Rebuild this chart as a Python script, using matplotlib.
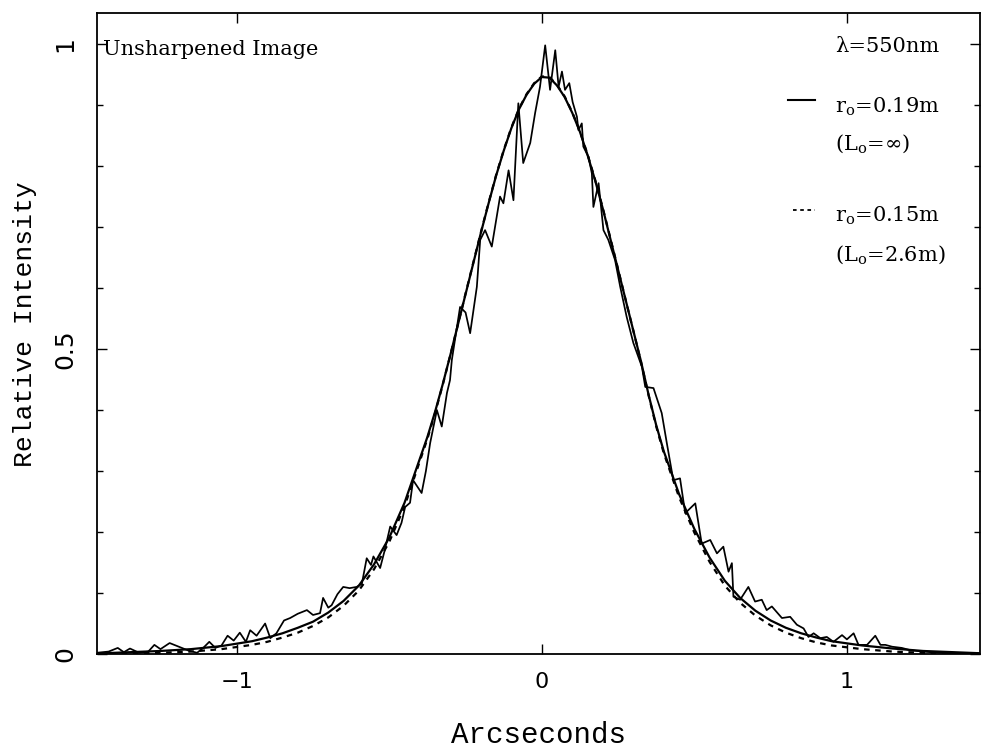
#!/usr/bin/env python3
# Unsharpened image profile against two seeing models.

import matplotlib
matplotlib.use('Agg')
import matplotlib.pyplot as plt
from matplotlib.ticker import MultipleLocator, FixedLocator, FixedFormatter

plt.rcParams['mathtext.fontset'] = 'dejavuserif'

# model profiles, sampled in arcseconds
model_x = [-1.45, -1.35, -1.25, -1.15, -1.05, -0.95, -0.9, -0.85, -0.8, -0.75,
           -0.7, -0.65, -0.6, -0.55, -0.5, -0.45, -0.4, -0.375, -0.35, -0.325,
           -0.3, -0.275, -0.25, -0.225, -0.2, -0.175, -0.15, -0.125, -0.1,
           -0.075, -0.05, -0.025, 0.0, 0.025, 0.05, 0.075, 0.1, 0.125, 0.15,
           0.175, 0.2, 0.225, 0.25, 0.275, 0.3, 0.325, 0.35, 0.375, 0.4, 0.45,
           0.5, 0.55, 0.6, 0.65, 0.7, 0.75, 0.8, 0.85, 0.9, 0.95, 1.05, 1.15,
           1.25, 1.35, 1.45]

# r0 = 0.19 m, infinite outer scale
kolmogorov_y = [0.001, 0.003, 0.005, 0.008, 0.013, 0.021, 0.027, 0.034, 0.043,
                0.053, 0.068, 0.087, 0.112, 0.147, 0.191, 0.248, 0.320, 0.356,
                0.397, 0.442, 0.49, 0.54, 0.59, 0.64, 0.69, 0.738, 0.784, 0.825,
                0.862, 0.893, 0.917, 0.935, 0.946, 0.945, 0.932, 0.913, 0.887,
                0.856, 0.818, 0.776, 0.73, 0.68, 0.63, 0.58, 0.53, 0.48, 0.425,
                0.375, 0.332, 0.262, 0.205, 0.158, 0.12, 0.092, 0.071, 0.055,
                0.043, 0.034, 0.027, 0.021, 0.014, 0.009, 0.005, 0.003, 0.001]

# r0 = 0.15 m, outer scale 2.6 m
von_karman_y = [0.000, 0.001, 0.002, 0.004, 0.008, 0.015, 0.020, 0.027, 0.035,
                0.046, 0.060, 0.079, 0.104, 0.139, 0.184, 0.242, 0.316, 0.353,
                0.395, 0.441, 0.49, 0.54, 0.591, 0.641, 0.691, 0.739, 0.785,
                0.826, 0.863, 0.894, 0.918, 0.936, 0.947, 0.946, 0.933, 0.914,
                0.888, 0.857, 0.819, 0.777, 0.731, 0.681, 0.631, 0.58, 0.53,
                0.479, 0.424, 0.373, 0.329, 0.257, 0.199, 0.151, 0.112, 0.084,
                0.063, 0.047, 0.035, 0.026, 0.019, 0.014, 0.008, 0.004, 0.002,
                0.001, 0.000]

# measured profile of the unsharpened image
image_x = [-1.46, -1.42, -1.39, -1.37, -1.35, -1.32, -1.29, -1.27, -1.25, -1.22,
           -1.19, -1.16, -1.13, -1.11, -1.09, -1.07, -1.05, -1.03, -1.01, -0.99,
           -0.97, -0.956, -0.935, -0.907, -0.89, -0.87, -0.845, -0.825, -0.80,
           -0.77, -0.75, -0.727, -0.717, -0.70, -0.689, -0.67, -0.651, -0.63,
           -0.607, -0.59, -0.574, -0.56, -0.552, -0.53, -0.515, -0.497, -0.476,
           -0.46, -0.448, -0.432, -0.422, -0.394, -0.38, -0.366, -0.344, -0.328,
           -0.311, -0.301, -0.295, -0.268, -0.25, -0.235, -0.213, -0.202,
           -0.186, -0.164, -0.137, -0.126, -0.109, -0.093, -0.077, -0.061,
           -0.038, -0.022, -0.006, 0.011, 0.027, 0.044, 0.055, 0.066, 0.076,
           0.09, 0.101, 0.115, 0.12, 0.131, 0.136, 0.153, 0.164, 0.169, 0.186,
           0.202, 0.218, 0.24, 0.257, 0.278, 0.30, 0.328, 0.339, 0.366, 0.393,
           0.41, 0.431, 0.453, 0.47, 0.503, 0.524, 0.552, 0.574, 0.595, 0.612,
           0.623, 0.628, 0.65, 0.677, 0.699, 0.721, 0.737, 0.754, 0.787, 0.814,
           0.836, 0.858, 0.874, 0.891, 0.913, 0.934, 0.956, 0.984, 1.0, 1.022,
           1.038, 1.066, 1.093, 1.11, 1.126, 1.148, 1.18, 1.21, 1.25, 1.30,
           1.36, 1.44]
image_y = [0.002, 0.004, 0.010, 0.003, 0.009, 0.002, 0.004, 0.015, 0.008, 0.018,
           0.012, 0.006, 0.002, 0.010, 0.020, 0.010, 0.014, 0.030, 0.022, 0.035,
           0.020, 0.039, 0.030, 0.050, 0.026, 0.034, 0.055, 0.059, 0.066, 0.072,
           0.064, 0.067, 0.092, 0.076, 0.080, 0.098, 0.110, 0.108, 0.110, 0.115,
           0.157, 0.146, 0.160, 0.141, 0.170, 0.209, 0.195, 0.215, 0.241, 0.248,
           0.285, 0.264, 0.300, 0.346, 0.400, 0.373, 0.428, 0.449, 0.482, 0.569,
           0.560, 0.526, 0.602, 0.679, 0.695, 0.668, 0.750, 0.739, 0.793, 0.744,
           0.903, 0.805, 0.838, 0.887, 0.930, 0.998, 0.925, 0.990, 0.930, 0.955,
           0.925, 0.936, 0.905, 0.881, 0.859, 0.870, 0.832, 0.815, 0.788, 0.733,
           0.772, 0.695, 0.679, 0.646, 0.602, 0.553, 0.510, 0.471, 0.438, 0.436,
           0.395, 0.345, 0.285, 0.288, 0.231, 0.247, 0.181, 0.187, 0.165, 0.176,
           0.135, 0.149, 0.094, 0.089, 0.110, 0.086, 0.089, 0.072, 0.078, 0.059,
           0.061, 0.048, 0.042, 0.028, 0.034, 0.026, 0.028, 0.020, 0.031, 0.024,
           0.034, 0.015, 0.015, 0.030, 0.015, 0.015, 0.012, 0.010, 0.006, 0.004,
           0.002, 0.001, 0.001]

y_ticks = [0, 0.5, 1]
y_tick_labels = ['0', '0.5', '1']
x_ticks = [-1, 0, 1]
x_tick_labels = ['\u22121', '0', '1']

fig = plt.figure(figsize=(9.81, 7.56), dpi=100)
ax = fig.add_axes([0.0989, 0.1349, 0.9, 0.8479])

ax.plot(model_x, kolmogorov_y, color='black', linewidth=1.6)
ax.plot(model_x, von_karman_y, color='black', linewidth=1.6,
        linestyle=(0, (2.5, 2.5)))
ax.plot(image_x, image_y, color='black', linewidth=1.25)

ax.set_xlim(-1.458, 1.436)
ax.set_ylim(0, 1.051)

ax.xaxis.set_major_locator(FixedLocator(x_ticks))
ax.xaxis.set_major_formatter(FixedFormatter(x_tick_labels))
ax.yaxis.set_major_locator(FixedLocator(y_ticks))
ax.yaxis.set_major_formatter(FixedFormatter(y_tick_labels))
ax.yaxis.set_minor_locator(MultipleLocator(0.1))

ax.tick_params(which='both', direction='in', top=True, right=True,
               color='black')
ax.tick_params(which='major', length=7, width=1.0)
ax.tick_params(which='minor', length=4, width=1.0)
ax.tick_params(axis='x', labelsize=16, pad=13)
ax.tick_params(axis='y', labelsize=18, pad=14)
for label in ax.get_yticklabels():
  label.set_rotation(90)
  label.set_va('center')

for spine in ax.spines.values():
  spine.set_linewidth(1.3)

ax.set_xlabel('Arcseconds', fontfamily='Liberation Mono', fontsize=21)
ax.xaxis.set_label_coords(0.5, -0.104)
ax.set_ylabel('Relative Intensity', fontfamily='Liberation Mono', fontsize=19)
ax.yaxis.set_label_coords(-0.068, 0.515)

text_style = dict(transform=ax.transAxes, fontfamily='DejaVu Serif',
                  fontsize=15, va='baseline', ha='left')
ax.text(0.007, 0.935, 'Unsharpened Image', **text_style)
ax.text(0.836, 0.939, '\u03bb=550nm', **text_style)
ax.text(0.836, 0.845, r'r$_{\mathrm{o}}$=0.19m', **text_style)
ax.text(0.836, 0.786, r'(L$_{\mathrm{o}}$=$\infty$)', **text_style)
ax.text(0.836, 0.674, r'r$_{\mathrm{o}}$=0.15m', **text_style)
ax.text(0.836, 0.614, r'(L$_{\mathrm{o}}$=2.6m)', **text_style)

# legend samples
ax.plot([0.783, 0.813], [0.864, 0.864], transform=ax.transAxes,
        color='black', linewidth=1.5)
ax.plot([0.788, 0.813], [0.693, 0.693], transform=ax.transAxes,
        color='black', linewidth=1.3, linestyle=(0, (2, 2)))

fig.savefig('out.png', dpi=100)
